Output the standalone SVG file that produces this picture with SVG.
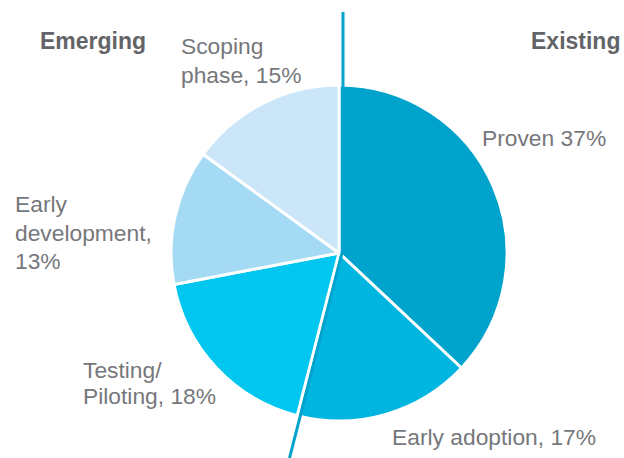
<svg xmlns="http://www.w3.org/2000/svg" width="624" height="458" viewBox="0 0 624 458">
  <style>
    .slice { stroke: #ffffff; stroke-width: 3; stroke-linejoin: round; }
    .lbl { font-family: "Liberation Sans", Arial, sans-serif; font-size: 22.8px; fill: #76777b; }
    .hdr { font-family: "Liberation Sans", Arial, sans-serif; font-size: 23px; font-weight: bold; fill: #636468; }
  </style>
  <rect width="624" height="458" fill="#ffffff"/>
  <g id="headers">
    <text class="hdr" x="40" y="49">Emerging</text>
    <text class="hdr" x="531" y="49">Existing</text>
  </g>
  <g id="proven">
    <path class="slice" fill="#00a3cc" d="M339,253 L339,85 A168,168 0 0 1 461.5,368 Z"/>
    <text class="lbl" x="482" y="146">Proven 37%</text>
  </g>
  <g id="early-adoption">
    <path class="slice" fill="#00b5e0" d="M339,253 L461.5,368 A168,168 0 0 1 297.2,415.7 Z"/>
    <text class="lbl" x="392" y="445">Early adoption, 17%</text>
  </g>
  <g id="testing">
    <path class="slice" fill="#00c6f0" d="M339,253 L297.2,415.7 A168,168 0 0 1 174,284.5 Z"/>
    <text class="lbl" x="83" y="378">Testing/</text>
    <text class="lbl" x="83" y="404">Piloting, 18%</text>
  </g>
  <g id="early-development">
    <path class="slice" fill="#a5daf5" d="M339,253 L174,284.5 A168,168 0 0 1 203.1,154.3 Z"/>
    <text class="lbl" x="15" y="212">Early</text>
    <text class="lbl" x="15" y="241">development,</text>
    <text class="lbl" x="15" y="269">13%</text>
  </g>
  <g id="scoping">
    <path class="slice" fill="#cce6f9" d="M339,253 L203.1,154.3 A168,168 0 0 1 339,85 Z"/>
    <text class="lbl" x="181" y="54">Scoping</text>
    <text class="lbl" x="181" y="83">phase, 15%</text>
  </g>
  <g id="connectors">
    <path d="M343,12 L343,249 L289.5,458" fill="none" stroke="#00a3cc" stroke-width="3" stroke-linejoin="miter"/>
  </g>
</svg>
